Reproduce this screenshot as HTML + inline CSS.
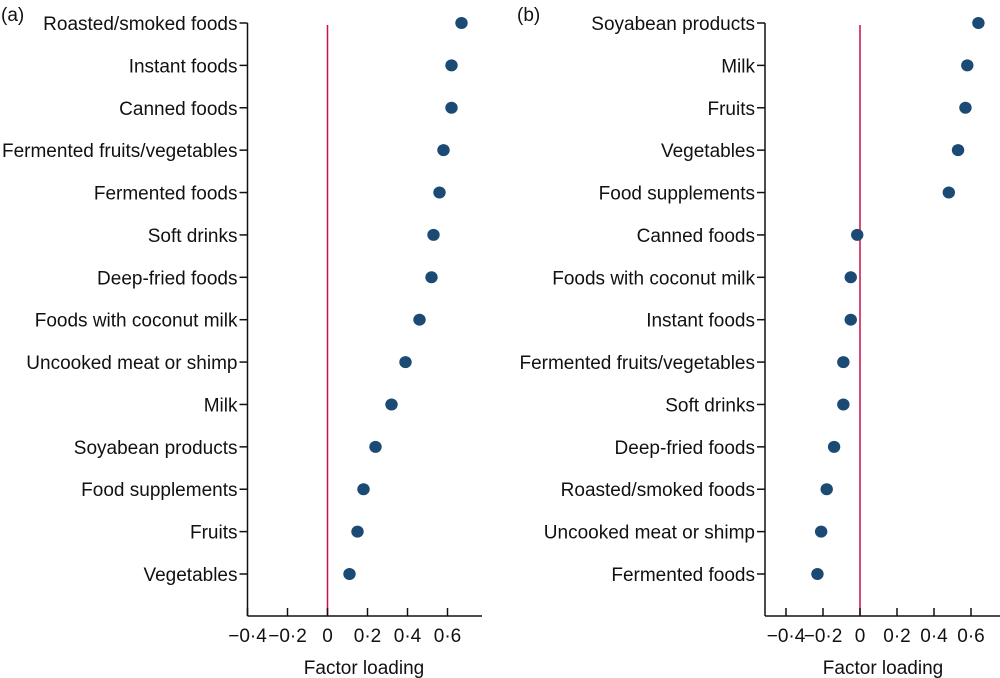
<!DOCTYPE html>
<html><head><meta charset="utf-8"><style>
html,body{margin:0;padding:0;background:#fff;}
svg{display:block;font-family:"Liberation Sans",Arial,sans-serif;}
</style></head><body>
<svg id="chart" width="1000" height="678" viewBox="0 0 1000 678"></svg>
<script>
const catsA = ["Roasted/smoked foods","Instant foods","Canned foods","Fermented fruits/vegetables","Fermented foods","Soft drinks","Deep-fried foods","Foods with coconut milk","Uncooked meat or shimp","Milk","Soyabean products","Food supplements","Fruits","Vegetables"];
const valsA = [0.67,0.62,0.62,0.58,0.56,0.53,0.52,0.46,0.39,0.32,0.24,0.18,0.15,0.11];
const catsB = ["Soyabean products","Milk","Fruits","Vegetables","Food supplements","Canned foods","Foods with coconut milk","Instant foods","Fermented fruits/vegetables","Soft drinks","Deep-fried foods","Roasted/smoked foods","Uncooked meat or shimp","Fermented foods"];
const valsB = [0.64,0.58,0.57,0.53,0.48,-0.015,-0.05,-0.05,-0.09,-0.09,-0.14,-0.18,-0.21,-0.23];
const ticks = [-0.4,-0.2,0,0.2,0.4,0.6];
const tickLabels = ["\u22120\u00b74","\u22120\u00b72","0","0\u00b72","0\u00b74","0\u00b76"];

const NS="http://www.w3.org/2000/svg";
const svg=document.getElementById('chart');
function mk(tag,attrs,parent){const e=document.createElementNS(NS,tag);for(const k in attrs)e.setAttribute(k,attrs[k]);(parent||svg).appendChild(e);return e;}

function panel(id,cats,vals,axX,zeroX,scale,axRight,letter,letterX,titleX){
  const g=mk('g',{});
  
  
  const xs=v=>zeroX+v*scale;
  const ys=i=>23+i*(574-23)/13;
  const axY=616;
  const pl=mk('text',{x:letterX,y:21,'font-size':19,fill:'#111'},g);pl.textContent=letter;
  
  
  const ya=mk('line',{x1:axX,y1:23,x2:axX,y2:axY,stroke:'#111','stroke-width':1.5},g);
  
  
  const xa=mk('line',{x1:axX,y1:axY,x2:axRight,y2:axY,stroke:'#111','stroke-width':1.5},g);
  
  
  const zl=mk('line',{x1:xs(0),y1:25,x2:xs(0),y2:axY,stroke:'#c8104a','stroke-width':1.5},g);
  
  
  ticks.forEach((t,i)=>{
    const x=xs(t);
    const tk=mk('line',{x1:x,y1:axY,x2:x,y2:axY-8,stroke:'#111','stroke-width':1.5},g);
    
    
    const tl=mk('text',{x:x,y:642,'font-size':19,'text-anchor':'middle',fill:'#111'},g);
    tl.textContent=tickLabels[i];
    
    
  });
  const xt=mk('text',{x:titleX,y:674,'font-size':19,'text-anchor':'middle',fill:'#111'},g);
  xt.textContent='Factor loading';
  
  
  cats.forEach((c,i)=>{
    const y=ys(i);
    const tk=mk('line',{x1:axX-8,y1:y,x2:axX,y2:y,stroke:'#111','stroke-width':1.5},g);
    
    
    const lb=mk('text',{x:axX-10,y:y+7,'font-size':19,'text-anchor':'end',fill:'#111'},g);
    lb.textContent=c;
    
    
    const d=mk('ellipse',{cx:xs(vals[i]),cy:y,rx:6.2,ry:6,fill:'#1b4a74'},g);
    
    
  });
}
panel('a',catsA,valsA,247.5,327.5,200,482,'(a)',1,364);
panel('b',catsB,valsB,765,860,185,1000,'(b)',517,883);
</script>
</body></html>
